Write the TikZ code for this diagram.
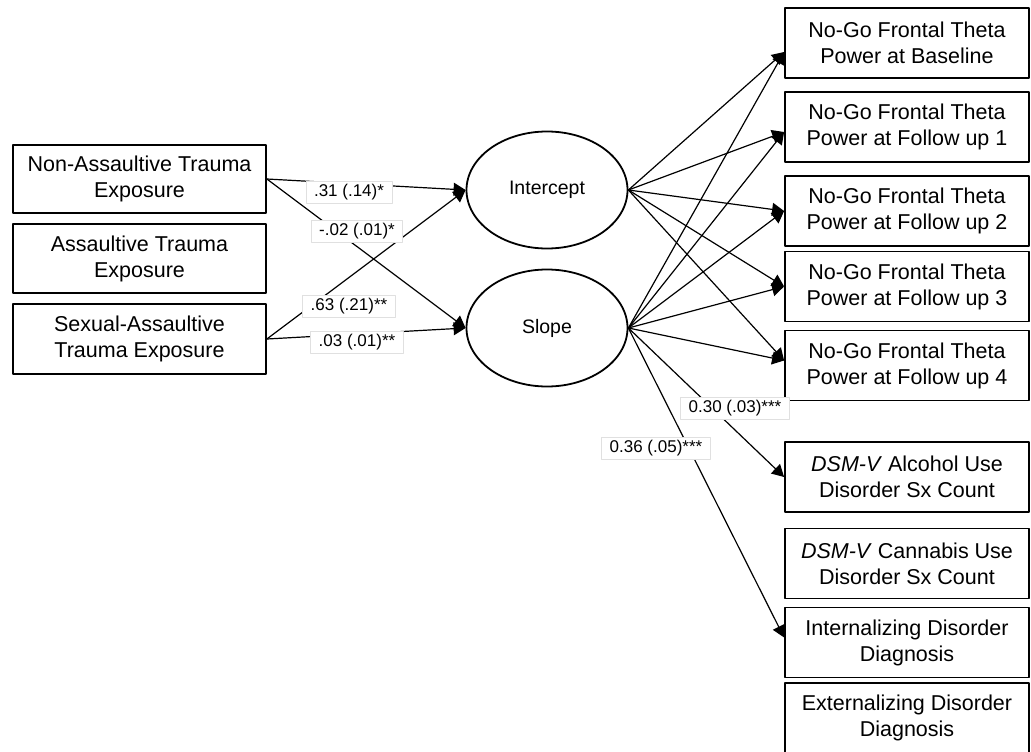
\documentclass[tikz,border=0pt]{standalone}
\usepackage{fontspec}
\setmainfont{Liberation Sans}
\usetikzlibrary{arrows.meta,shapes.geometric}

\begin{document}
\begin{tikzpicture}[>={Triangle[length=12pt,width=13pt]},line join=round,line cap=round,x=1pt,y=-1pt]
	\tikzset{
		box/.style={draw,line width=1.8pt,minimum width=253pt,minimum height=69pt,align=center,inner sep=0pt,font=\fontsize{21.5}{26}\selectfont},
		rbox/.style={box,minimum width=244pt,minimum height=70pt},
		latent/.style={draw,ellipse,line width=1.8pt,minimum width=161pt,minimum height=117pt,inner sep=0pt,font=\fontsize{19.5}{23}\selectfont},
		reg/.style={->,line width=1.2pt},
		est/.style={fill=white,draw=black!12,line width=.6pt,inner xsep=8pt,inner ysep=3pt,font=\fontsize{17}{20}\selectfont}
	}
	\path[use as bounding box,clip] (0,0) rectangle (1031,752);
	\node[box,minimum height=68pt] (nat) at (139.5,179) {Non-Assaultive Trauma\\Exposure};
	\node[box] (at) at (139.5,258.5) {Assaultive Trauma\\Exposure};
	\node[box,minimum height=70pt] (sat) at (139.5,339) {Sexual-Assaultive\\Trauma Exposure};
	\node[latent] (int) at (547,190) {Intercept};
	\node[latent] (slp) at (547,328) {Slope};
	\foreach \name/\y/\txt in {base/43/Baseline,fu1/127/Follow up 1,fu2/211/Follow up 2,fu3/286.5/Follow up 3,fu4/365.5/Follow up 4}{
		\node[rbox] (\name) at (907,\y) {No-Go Frontal Theta\\Power at \txt};
	}
	\node[rbox] (alc) at (907,477) {\textit{DSM-V} Alcohol Use\\Disorder Sx Count};
	\node[rbox] (can) at (907,563.5) {\textit{DSM-V} Cannabis Use\\Disorder Sx Count};
	\node[rbox] (intz) at (907,642.5) {Internalizing Disorder\\Diagnosis};
	\node[rbox] (extz) at (907,718) {Externalizing Disorder\\Diagnosis};
	\foreach \t/\dy in {base/-9,fu1/-5,fu2/0,fu3/0,fu4/5}{
		\draw[reg] (int.east)--([yshift=\dy pt]\t.west);
		\draw[reg] (slp.east)--([yshift=\dy pt]\t.west);
	}
	\draw[reg] (slp.east)--(alc.west);
	\draw[reg] (slp.east)--([yshift=5pt]intz.west);
	\draw[reg] (nat.east)--(int.west);
	\draw[reg] (nat.east)--(slp.west);
	\draw[reg] (sat.east)--(int.west);
	\draw[reg] (sat.east)--(slp.west);
	\node[est] (e1) at (349,192) {.31 (.14)*};
	\node[est] (e2) at (357,231) {-.02 (.01)*};
	\node[est] (e3) at (349,306) {.63 (.21)**};
	\node[est] (e4) at (357,342) {.03 (.01)**};
	\node[est] (e5) at (735,408) {0.30 (.03)***};
	\node[est] (e6) at (656,448) {0.36 (.05)***};
\end{tikzpicture}
\end{document}
